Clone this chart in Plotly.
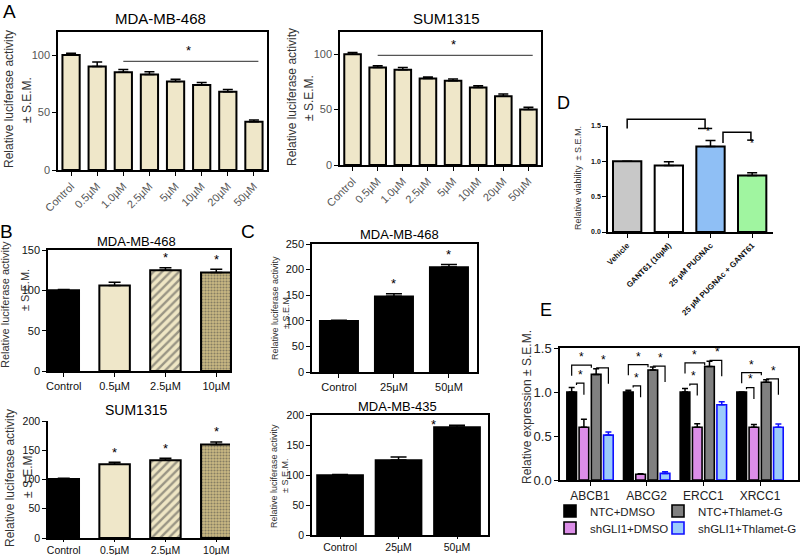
import plotly.graph_objects as go

W, H = 800, 555

# ---- values ----
a_labels = ["Control", "0.5µM", "1.0µM", "2.5µM", "5µM", "10µM", "20µM", "50µM"]
a_468 = [100, 90, 85, 83, 77, 74, 68, 42]
a_468_err = [1.5, 4, 2.5, 2.5, 2, 2, 2, 1.5]
a_1315 = [100, 88, 86, 78, 76, 70, 62, 50]
a_1315_err = [1.5, 1.5, 2, 1.5, 1.5, 1.5, 2, 2]

b_labels = ["Control", "0.5µM", "2.5µM", "10µM"]
b_468 = [100, 106, 125, 122]
b_468_err = [1, 4, 3, 4]
b_1315 = [101, 126, 133, 160]
b_1315_err = [1, 3.5, 3.5, 4]

c_labels = ["Control", "25µM", "50µM"]
c_468 = [100, 148, 205]
c_468_err = [1, 5, 5]
c_435 = [100, 125, 180]
c_435_err = [1, 5, 3]

d_labels = ["Vehicle", "GANT61 (10µM)", "25 µM PUGNAc", "25 µM PUGNAc + GANT61"]
d_vals = [1.0, 0.94, 1.21, 0.80]
d_err = [0, 0.055, 0.085, 0.04]

e_genes = ["ABCB1", "ABCG2", "ERCC1", "XRCC1"]
e_series = ["NTC+DMSO", "shGLI1+DMSO", "NTC+Thlamet-G", "shGLI1+Thlamet-G"]
e_vals = [[1.0, 1.0, 1.0, 1.0],
          [0.6, 0.065, 0.6, 0.6],
          [1.2, 1.25, 1.29, 1.11],
          [0.51, 0.075, 0.855, 0.6]]
e_err = [[0.05, 0.02, 0.04, 0.0],
         [0.09, 0.005, 0.04, 0.03],
         [0.065, 0.035, 0.06, 0.03],
         [0.035, 0.02, 0.035, 0.035]]

FONT = "Liberation Sans, Arial, sans-serif"
NARROW = "Liberation Sans Narrow, Liberation Sans, Arial, sans-serif"
CREAM = "#efe7c9"

fig = go.Figure()
annos = []


def xd(a, b):
    return [a / W, b / W]


def yd(top, bottom):
    return [1 - bottom / H, 1 - top / H]


def up_err(err, w=5, t=1.5, color="black"):
    return dict(type="data", array=err, arrayminus=[0] * len(err), symmetric=False,
                color=color, thickness=t, width=w)


def label(text, px, py, size=14, font=FONT, angle=0, color="black"):
    annos.append(dict(text=text, x=px / W, y=1 - py / H, xref="paper", yref="paper",
                      showarrow=False, textangle=angle, font=dict(family=font, size=size, color=color),
                      xanchor="center", yanchor="middle"))


def star(n, x, y, size=13, xshift=0, anchor="bottom"):
    annos.append(dict(text="*", x=x, y=y, xref="x%d" % n, yref="y%d" % n, showarrow=False,
                      yanchor=anchor, xshift=xshift, font=dict(family=FONT, size=size, color="black")))


def lines(n, segs, width=1.5, color="black"):
    xs, ys = [], []
    for s in segs:
        for p in s:
            xs.append(p[0])
            ys.append(p[1])
        xs.append(None)
        ys.append(None)
    fig.add_trace(go.Scatter(x=xs, y=ys, mode="lines", xaxis="x%d" % n, yaxis="y%d" % n,
                             line=dict(color=color, width=width), showlegend=False, hoverinfo="skip"))


def idx(labels):
    return list(range(len(labels)))


# ---- A: dose response ----
for n, vals, err, sig_from, sig_gap in [(1, a_468, a_468_err, 2, 7), (2, a_1315, a_1315_err, 1, 9.5)]:
    fig.add_trace(go.Bar(x=idx(a_labels), y=vals, xaxis="x%d" % n, yaxis="y%d" % n, width=0.66,
                         marker=dict(color=CREAM, line=dict(color="black", width=2)),
                         error_y=up_err(err), showlegend=False))
    lvl = max(v + e for v, e in zip(vals[sig_from:], err[sig_from:])) + sig_gap
    lines(n, [[(sig_from, lvl), (len(vals) - 1 + 0.17, lvl)]], width=1.2, color="#555")
    star(n, (sig_from + len(vals) - 1) / 2, lvl + 1)

# ---- B: low dose ----
b_pat = [
    dict(shape=["", "", "/", "."], fgcolor=["black", CREAM, "#8c7a3c", "#8f7f4c"],
         bgcolor=["black", CREAM, "#efe6c4", "#cdbd8c"], size=[6, 6, 6, 3], solidity=[0.3, 0.3, 0.4, 0.4]),
    dict(shape=["", "", "/", "."], fgcolor=["black", CREAM, "#8a8a8a", "#9a8a55"],
         bgcolor=["black", CREAM, "#eeeeee", "#c9b883"], size=[6, 6, 6, 3], solidity=[0.3, 0.3, 0.4, 0.4]),
]
for n, vals, err, pat, sig in [(3, b_468, b_468_err, b_pat[0], [2, 3]), (4, b_1315, b_1315_err, b_pat[1], [1, 2, 3])]:
    fig.add_trace(go.Bar(x=idx(b_labels), y=vals, xaxis="x%d" % n, yaxis="y%d" % n, width=0.6,
                         marker=dict(color=["black", CREAM, "#efe6c4", "#c9b883"],
                                     line=dict(color="black", width=2), pattern=pat),
                         error_y=up_err(err, w=6), showlegend=False))
    for i in sig:
        star(n, i, vals[i] + err[i] + 1)

# ---- C: high dose ----
for n, vals, err, width, sig, shift in [(5, c_468, c_468_err, 0.7, [1, 2], 0), (6, c_435, c_435_err, 0.79, [2], -24)]:
    fig.add_trace(go.Bar(x=idx(c_labels), y=vals, xaxis="x%d" % n, yaxis="y%d" % n, width=width,
                         marker=dict(color="black", line=dict(color="black", width=1.5)),
                         error_y=up_err(err, w=8), showlegend=False))
    for i in sig:
        if shift:
            star(n, i, vals[i] + err[i] + 2, xshift=shift, anchor="middle")
        else:
            star(n, i, vals[i] + err[i] + 1)

# ---- D: viability ----
fig.add_trace(go.Bar(x=idx(d_labels), y=d_vals, xaxis="x7", yaxis="y7", width=0.68,
                     marker=dict(color=["#c8c8c8", "white", "#8fbff5", "#a0f5a0"],
                                 line=dict(color="black", width=2)),
                     error_y=up_err(d_err, w=5), showlegend=False))
pug_top = d_vals[2] + d_err[2]
cmb_top = d_vals[3] + d_err[3]
b1_top, b1_end = pug_top + 0.3, pug_top + 0.17
b2_lo, b2_top, b2_end = pug_top - 0.035, pug_top + 0.115, cmb_top + 0.46
lines(9, [[(0, b1_end), (0, b1_top), (1.87, b1_top), (1.87, b1_end)],
          [(1.7, b1_end), (2.04, b1_end)],
          [(2.3, b2_lo), (2.3, b2_top), (2.97, b2_top), (2.97, b2_end)],
          [(2.88, b2_end), (3.03, b2_end)]], width=1.5)
star(7, 2, pug_top + 0.02, size=10, xshift=-3)
star(7, 3, cmb_top + 0.3, size=10)

# ---- E: expression ----
e_fill = ["black", "#dc8ee8", "#808080", "#9cccfb"]
e_edge = ["black", "black", "black", "#1010ff"]
e_legend = ["legend", "legend3", "legend2", "legend4"]
slot, bw = 0.216, 0.17
for k in range(4):
    off = (k - 1.5) * slot
    fig.add_trace(go.Bar(x=idx(e_genes), y=e_vals[k], name=e_series[k], xaxis="x8", yaxis="y8",
                         width=bw, offset=off - bw / 2, legend=e_legend[k],
                         marker=dict(color=e_fill[k], line=dict(color=e_edge[k], width=1.6)),
                         error_y=up_err(e_err[k], w=3, color=e_edge[k])))
segs = []
for g in range(4):
    c = [g + (k - 1.5) * slot for k in range(4)]
    top = [e_vals[k][g] + e_err[k][g] for k in range(4)]
    s_lvl = top[0] + 0.05
    segs.append([(c[0] + bw / 2, s_lvl - 0.02), (c[0] + bw / 2, s_lvl), (c[1], s_lvl), (c[1], s_lvl - 0.13)])
    star(8, (c[0] + bw / 2 + c[1]) / 2, s_lvl - 0.01, size=12)
    g_lvl = max(min(max(top[0], top[2]) + 0.04, top[0] + 0.29), s_lvl + 0.17)
    segs.append([(c[0], g_lvl - 0.12), (c[0], g_lvl), (c[2] - bw / 2, g_lvl), (c[2] - bw / 2, g_lvl - 0.03)])
    star(8, (c[0] + c[2] - bw / 2) / 2, g_lvl - 0.01, size=12)
    r_lvl = top[2] + 0.01
    segs.append([(c[2], r_lvl), (c[3], r_lvl), (c[3], r_lvl - 0.18)])
    star(8, (c[2] + c[3]) / 2 + 0.03, r_lvl - 0.01, size=12)
lines(8, segs, width=1.2)

# ---- axes ----
panels = {
    1: dict(x=(58, 267), y=(32, 170), box=True, xr=[-0.5, 7.5], yr=[0, 120], dt=50, lab=a_labels),
    2: dict(x=(340, 541), y=(32, 165), box=True, xr=[-0.5, 7.5], yr=[0, 120], dt=50, lab=a_labels),
    3: dict(x=(48, 230), y=(250, 371), box=True, xr=[-0.31, 3.27], yr=[0, 150], dt=50, lab=b_labels),
    4: dict(x=(48, 230), y=(421, 538), box=False, xr=[-0.31, 3.27], yr=[0, 200], dt=50, lab=b_labels),
    5: dict(x=(312, 477), y=(244, 372), box=True, xr=[-0.49, 2.51], yr=[0, 250], dt=50, lab=c_labels),
    6: dict(x=(312, 488), y=(415, 535), box=True, xr=[-0.48, 2.53], yr=[0, 200], dt=50, lab=c_labels),
    7: dict(x=(608, 773), y=(126, 232), box=False, xr=[-0.46, 3.5], yr=[0, 1.5], dt=0.5,
            lab=["<b>%s</b>" % s for s in d_labels]),
    8: dict(x=(560, 798), y=(348, 480), box=True, xr=[-0.53, 3.67], yr=[0, 1.5], dt=0.5, lab=e_genes),
}
tickfont = {
    1: dict(size=11, color="#555"), 2: dict(size=11, color="#555"),
    3: dict(size=11, color="#111"), 4: dict(size=10.5, color="#111"),
    5: dict(size=11, color="#111", family=NARROW), 6: dict(size=10.5, color="#111", family=NARROW),
    7: dict(size=8, color="#111"), 8: dict(size=12, color="#222"),
}
lay = {}
for n, p in panels.items():
    sfx = "" if n == 1 else str(n)
    tfx = dict(family=FONT)
    tfx.update(tickfont[n])
    tfy = dict(tfx)
    if n == 8:
        tfy["size"] = 13
    lay["xaxis" + sfx] = dict(domain=xd(*p["x"]), anchor="y%d" % n, range=p["xr"], showline=True,
                              linecolor="black", linewidth=1.5, mirror=p["box"], ticks="outside",
                              ticklen=2 if n in (4, 6) else 4, tickcolor="black", tickfont=tfx,
                              showgrid=False, zeroline=False,
                              tickvals=idx(p["lab"]), ticktext=p["lab"],
                              tickangle=-45 if n in (1, 2, 7) else 0, fixedrange=True)
    lay["yaxis" + sfx] = dict(domain=yd(*p["y"]), anchor="x%d" % n, range=p["yr"], dtick=p["dt"],
                              showline=True, linecolor="black", linewidth=1.5, mirror=p["box"],
                              ticks="outside", ticklen=4, tickcolor="black", tickfont=tfy,
                              showgrid=False, zeroline=False, fixedrange=True,
                              tickformat=".1f" if n in (7, 8) else None)
lay["yaxis7"]["tickprefix"] = "<b>"
lay["yaxis7"]["ticksuffix"] = "</b>"
lay["yaxis7"]["tickfont"]["size"] = 7
# invisible helper axes over panel D so the brackets can rise above its 1.5 top
lay["xaxis9"] = dict(domain=xd(608, 773), anchor="y9", range=[-0.46, 3.5], visible=False, fixedrange=True)
lay["yaxis9"] = dict(domain=yd(105, 232), anchor="x9", range=[0, 1.5 * (232 - 105) / (232 - 126)],
                     visible=False, fixedrange=True)

# legends for panel E, one per entry
leg_pos = {"legend": (550, 511), "legend2": (658, 511), "legend3": (550, 528), "legend4": (658, 528)}
for name, (px, py) in leg_pos.items():
    lay[name] = dict(x=px / W, y=1 - py / H, xanchor="left", yanchor="middle", bgcolor="rgba(0,0,0,0)",
                     font=dict(family=FONT, size=11.5, color="#222"), itemwidth=30)

# ---- titles, axis titles, panel letters ----
label("MDA-MB-468", 160, 19, size=15)
label("SUM1315", 446, 19, size=15)
label("MDA-MB-468", 136, 241, size=13)
label("SUM1315", 136, 410, size=14)
label("MDA-MB-468", 399, 234, size=13, font=NARROW)
label("MDA-MB-435", 397, 406, size=13, font=NARROW)
for px, py, s in [(9, 99, 12), (292, 97, 12), (5, 305, 11), (10, 478, 12), (275, 308, 9), (274, 476, 9)]:
    label("Relative luciferase activity", px, py, size=s, angle=-90, color="#333")
for px, py, s in [(27, 100, 12), (309, 98, 12), (25, 290, 11), (28, 475, 12), (286, 312, 9), (285, 476, 9)]:
    label("± S.E.M.", px, py, size=s, angle=-90, color="#333")
label("Relative viability  ± S.E.M.", 578, 178, size=9, angle=-90, color="#333")
label("Relative expression ± S.E.M.", 527, 407, size=12, angle=-90, color="#333")
for t, px, py, s in [("A", 9, 11, 19), ("B", 6, 232, 19), ("C", 248, 232, 19), ("D", 563, 103, 18),
                     ("E", 546, 310, 18)]:
    label(t, px, py, size=s)

fig.update_layout(
    width=W, height=H, margin=dict(l=0, r=0, t=0, b=0, autoexpand=False), barmode="overlay",
    paper_bgcolor="white", plot_bgcolor="rgba(0,0,0,0)",
    font=dict(family=FONT, color="black"),
    annotations=annos,
    **lay,
)

# the page's default 8px body margin would push the 800x555 figure off the window
fig.write_html("out.html", config={"displayModeBar": False},
               post_script="document.body.style.margin='0';")
